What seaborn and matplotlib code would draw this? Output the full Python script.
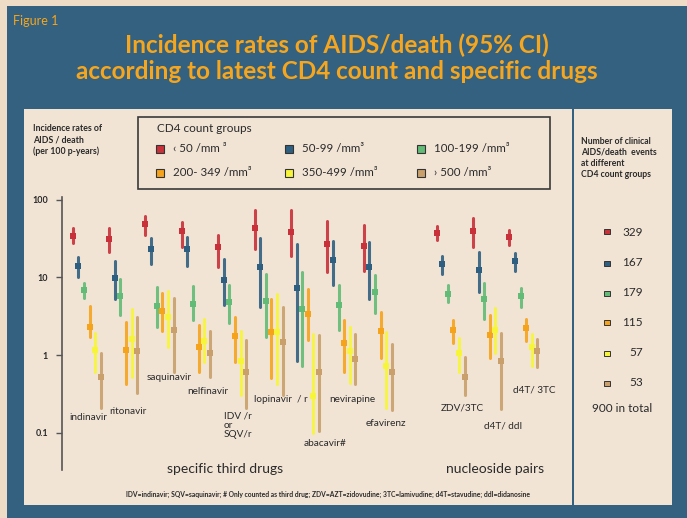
import pandas as pd
import matplotlib.pyplot as plt
import seaborn as sns
from matplotlib.patches import Rectangle

# drugs (third drugs, then nucleoside pairs) and their slot on the x axis
drugs = ['indinavir', 'ritonavir', 'saquinavir', 'nelfinavir', 'IDV/r or SQV/r',
         'lopinavir/r', 'abacavir#', 'nevirapine', 'efavirenz',
         'ZDV/3TC', 'd4T/ddI', 'd4T/3TC']
slots = [0, 1, 2, 3, 4, 5, 6, 7, 8, 10, 11, 12]

groups = ['<50', '50-99', '100-199', '200-349', '350-499', '>500']
colors = ['#c8303a', '#2f5f80', '#62bb76', '#f6a31c', '#f7f53a', '#c9a06c']
events = [329, 167, 179, 115, 57, 53]

# incidence rates per 100 p-years, with 95% CI
est_lt50 = [34.5, 31, 49, 40, 25, 43, 39, 27, 25.6, 37.7, 39.6, 33.2]
lo_lt50 = [27.5, 21, 35.5, 24.4, 13.5, 23, 18.9, 11.6, 12.2, 30.3, 24.9, 26.2]
hi_lt50 = [43, 43, 62, 52, 35, 74, 74, 54, 47, 46, 59, 41]

est_50 = [14.0, 9.7, 23, 23, 9.3, 13.5, 7.3, 16.8, 13.7, 15.0, 12.3, 16.3]
lo_50 = [10.0, 5.2, 14.8, 14.2, 4.4, 4.2, 0.85, 8.1, 5.2, 11.1, 6.5, 12.1]
hi_50 = [18.5, 16.4, 32.5, 32.9, 17.3, 32.5, 26.9, 29.7, 28.8, 19.0, 21.4, 20.5]

est_100 = [6.9, 5.8, 4.3, 4.6, 4.8, 5.0, 3.9, 4.4, 6.5, 6.2, 5.3, 5.8]
lo_100 = [5.4, 3.3, 2.3, 2.8, 2.6, 1.7, 0.72, 2.1, 3.5, 4.8, 2.9, 4.1]
hi_100 = [8.6, 9.5, 7.6, 7.7, 8.0, 11.1, 11.7, 8.0, 10.7, 8.1, 8.5, 7.3]

est_200 = [2.3, 1.15, 3.7, 1.28, 1.77, 2.0, 3.4, 1.44, 2.04, 2.08, 1.79, 2.25]
lo_200 = [1.7, 0.42, 2.06, 0.61, 0.81, 0.51, 1.56, 0.61, 0.92, 1.42, 0.92, 1.53]
hi_200 = [4.3, 2.7, 6.35, 2.46, 3.1, 5.2, 7.0, 2.8, 3.6, 2.8, 3.3, 2.9]

est_350 = [1.16, 1.6, 3.1, 1.53, 0.85, 2.0, 0.30, 1.13, 0.72, 1.07, 2.08, 1.27]
lo_350 = [0.61, 0.52, 1.28, 0.82, 0.31, 0.42, 0.10, 0.43, 0.21, 0.61, 1.05, 0.73]
hi_350 = [1.9, 3.9, 6.7, 2.9, 2.04, 6.1, 1.87, 2.3, 2.0, 1.67, 4.0, 1.87]

est_500 = [0.52, 1.14, 2.08, 1.05, 0.60, 1.46, 0.61, 0.89, 0.61, 0.52, 0.85, 1.14]
lo_500 = [0.21, 0.32, 0.61, 0.52, 0.21, 0.31, 0.106, 0.42, 0.195, 0.31, 0.20, 0.71]
hi_500 = [1.07, 3.06, 5.5, 2.04, 1.55, 4.2, 1.79, 1.87, 1.37, 0.95, 1.94, 1.62]

estimates = [est_lt50, est_50, est_100, est_200, est_350, est_500]
lowers = [lo_lt50, lo_50, lo_100, lo_200, lo_350, lo_500]
uppers = [hi_lt50, hi_50, hi_100, hi_200, hi_350, hi_500]

# long table: lower, estimate, upper per drug/group -> median + full range
DODGE = 0.77
rows = []
for g, est, lo, hi in zip(groups, estimates, lowers, uppers):
    for s, e, l, h in zip(slots, est, lo, hi):
        for v in (l, e, h):
            rows.append({'pos': s + DODGE / 2, 'cd4': g, 'rate': v})
df = pd.DataFrame(rows)

sns.set_style('ticks')
plt.rcParams['font.family'] = ['Lato', 'DejaVu Sans']

W, H = 687, 518
BEIGE = '#f1e4d5'
BLUE = '#33617f'
ORANGE = '#f6a61e'
INK = '#2a2a2a'


def fx(x):
    return x / W


def fy(y):
    return 1 - y / H


fig = plt.figure(figsize=(W / 100, H / 100), dpi=100)
fig.patch.set_facecolor('#eedcc6')

# panels
fig.add_artist(Rectangle((fx(7), 0), 1 - fx(7), fy(6), transform=fig.transFigure,
                         facecolor=BLUE, edgecolor='none', zorder=-3))
fig.add_artist(Rectangle((fx(24), fy(505)), fx(572 - 24), (505 - 109) / H,
                         transform=fig.transFigure, facecolor=BEIGE,
                         edgecolor='none', zorder=-2))
fig.add_artist(Rectangle((fx(574), fy(505)), fx(672 - 574), (505 - 109) / H,
                         transform=fig.transFigure, facecolor=BEIGE,
                         edgecolor='none', zorder=-2))

# plot area
ax = fig.add_axes([fx(62), fy(470), fx(572 - 62), (470 - 197) / H])
ax.set_facecolor('none')

sns.pointplot(data=df, x='pos', y='rate', hue='cd4', hue_order=groups,
              palette=colors, estimator='median', errorbar=('pi', 100),
              native_scale=True, dodge=DODGE, log_scale=(False, True),
              marker='s', markersize=4, markeredgewidth=0, linestyle='none',
              err_kws={'linewidth': 2.2, 'alpha': 0.9}, legend=False, ax=ax)

ax.set_xlim(-0.294, 13.72)
ax.set_ylim(0.033, 108.7)
ax.set_yticks([0.1, 1, 10, 100])
ax.set_yticklabels(['0.1', '1', '10', '100'], fontsize=6.5, fontweight='bold',
                   color=INK)
ax.yaxis.set_minor_locator(plt.NullLocator())
ax.tick_params(axis='y', length=4, width=1, color='#555555', pad=6)
ax.set_xticks([])
ax.set_xlabel('')
ax.set_ylabel('')
sns.despine(ax=ax, bottom=True)
ax.spines['left'].set_color('#555555')
ax.spines['left'].set_linewidth(1.2)

# titles
fig.text(fx(13), fy(21), 'Figure 1', color=ORANGE, fontsize=9, va='center')
fig.text(fx(337), fy(45), 'Incidence rates of AIDS/death (95% CI)',
         color=ORANGE, fontsize=17.5, fontweight='bold', ha='center', va='center')
fig.text(fx(337), fy(72), 'according to latest CD4 count and specific drugs',
         color=ORANGE, fontsize=17.5, fontweight='bold', ha='center', va='center')

# y label
fig.text(fx(33), fy(140), 'Incidence rates of\nAIDS / death\n(per 100 p-years)',
         color=INK, fontsize=6.3, fontweight='bold', va='center', linespacing=1.35)

# legend box
fig.add_artist(Rectangle((fx(138), fy(189)), fx(550 - 138), (189 - 117) / H,
                         transform=fig.transFigure, facecolor='none',
                         edgecolor='#3a3a3a', linewidth=1.2))
fig.text(fx(157), fy(128), 'CD4 count groups', color=INK, fontsize=8.5,
         va='center')
legend_labels = ['‹ 50 /mm ³', '50-99 /mm³', '100-199 /mm³',
                 '200- 349 /mm³', '350-499 /mm³', '› 500 /mm³']
legend_x = [160, 289, 421]
legend_y = [149, 173]
for k, (lab, col) in enumerate(zip(legend_labels, colors)):
    x0 = legend_x[k % 3]
    y0 = legend_y[k // 3]
    fig.add_artist(Rectangle((fx(x0 - 4), fy(y0 + 4)), fx(8), 8 / H,
                             transform=fig.transFigure, facecolor=col,
                             edgecolor='#333333', linewidth=0.8))
    fig.text(fx(x0 + 13), fy(y0), lab, color=INK, fontsize=8.3, va='center')

# drug labels
drug_labels = [('indinavir', 69, 418), ('ritonavir', 109, 411),
               ('saquinavir', 147, 378), ('nelfinavir', 187, 391),
               ('IDV /r\nor\nSQV/r', 224, 425), ('lopinavir  / r', 254, 400),
               ('abacavir#', 304, 443), ('nevirapine', 329, 399),
               ('efavirenz', 366, 423), ('ZDV/3TC', 441, 408),
               ('d4T/ ddI', 484, 426), ('d4T/ 3TC', 513, 390)]
for lab, x0, y0 in drug_labels:
    fig.text(fx(x0), fy(y0), lab, color=INK, fontsize=7.2, va='center',
             linespacing=1.05)

fig.text(fx(225), fy(469), 'specific third drugs', color=INK, fontsize=10,
         ha='center', va='center')
fig.text(fx(495), fy(469), 'nucleoside pairs', color=INK, fontsize=10,
         ha='center', va='center')
fig.text(fx(328), fy(494),
         'IDV=indinavir; SQV=saquinavir; # Only counted as third drug; '
         'ZDV=AZT=zidovudine; 3TC=lamivudine; d4T=stavudine; ddI=didanosine',
         color=INK, fontsize=4.9, fontweight='bold', ha='center', va='center')

# right panel: event counts
fig.text(fx(581), fy(158),
         'Number of clinical\nAIDS/death  events\nat different\nCD4 count groups',
         color=INK, fontsize=6.2, fontweight='bold', va='center', linespacing=1.3)
count_y = [232, 263, 293, 322, 353, 383]
for n, col, y0 in zip(events, colors, count_y):
    fig.add_artist(Rectangle((fx(604), fy(y0 + 2.5)), fx(6), 5 / H,
                             transform=fig.transFigure, facecolor=col,
                             edgecolor='#333333', linewidth=0.7))
    fig.text(fx(643), fy(y0), str(n), color=INK, fontsize=8.5, ha='right',
             va='center')
fig.text(fx(622), fy(409), '900 in total', color=INK, fontsize=8.5,
         ha='center', va='center')

plt.savefig('out.png', dpi=100, facecolor=fig.get_facecolor())
